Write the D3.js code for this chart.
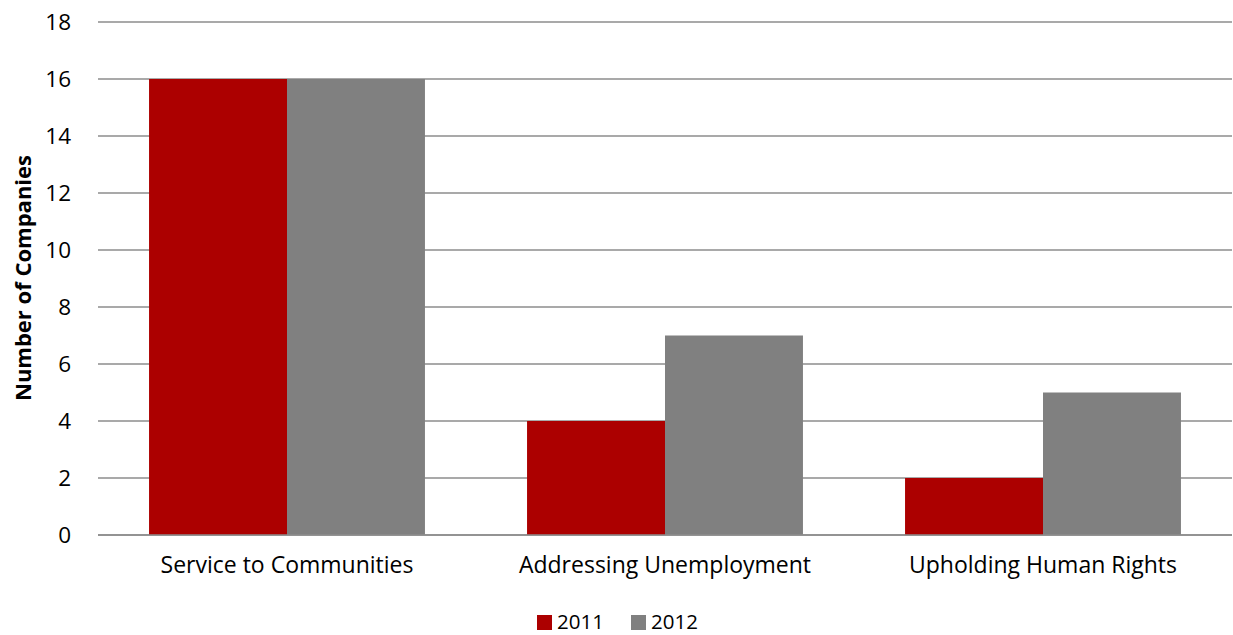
<!DOCTYPE html>
<html><head><meta charset="utf-8">
<script src="https://cdn.jsdelivr.net/npm/d3@7"></script>
<style>body{margin:0;background:#fff;} svg{display:block;}</style>
</head><body>
<svg id="c" width="1233" height="635"></svg>
<script>
const categories = ["Service to Communities", "Addressing Unemployment", "Upholding Human Rights"];
const seriesNames = ["2011", "2012"];
const values2011 = [16, 4, 2];
const values2012 = [16, 7, 5];
const yTicks = [0, 2, 4, 6, 8, 10, 12, 14, 16, 18];
const colors = ["#AC0000", "#808080"];

const svg = d3.select("#c");
const font = "'Open Sans', sans-serif";
const m = {left: 98, right: 1232, top: 22, bottom: 535};

const x0 = d3.scaleBand().domain(categories).range([m.left, m.right]).paddingInner(0).paddingOuter(0);
const x1 = d3.scaleBand().domain(seriesNames).range([0, x0.bandwidth()]).paddingInner(0).paddingOuter(0.37);
const y = d3.scaleLinear().domain([0, 18]).range([m.bottom, m.top]);

// gridlines
svg.append("g").selectAll("line").data(yTicks).join("line")
  .attr("x1", m.left).attr("x2", m.right)
  .attr("y1", d => y(d)).attr("y2", d => y(d))
  .attr("stroke", "#8c8c8c").attr("stroke-width", 1.5);

// y tick labels
const yAxis = d3.axisLeft(y).tickValues(yTicks).tickSize(0).tickPadding(0);
const ga = svg.append("g").attr("transform", `translate(71,0)`).call(yAxis);
ga.select(".domain").remove();
ga.selectAll("text").attr("font-family", font).attr("font-size", 22.5).attr("fill", "#000");

const data = [values2011, values2012];
seriesNames.forEach((s, si) => {
  svg.append("g").selectAll("rect").data(categories).join("rect")
    .attr("x", c => x0(c) + x1(s))
    .attr("width", x1.bandwidth())
    .attr("y", (c, i) => y(data[si][i]))
    .attr("height", (c, i) => y(0) - y(data[si][i]))
    .attr("fill", colors[si]);
});

// x axis line
svg.append("line").attr("x1", m.left).attr("x2", m.right).attr("y1", y(0)).attr("y2", y(0))
  .attr("stroke", "#8c8c8c").attr("stroke-width", 1.5);

// category labels
const xAxis = d3.axisBottom(x0).tickSize(0).tickPadding(0);
const gx = svg.append("g").attr("transform", `translate(0,${y(0) + 22})`).call(xAxis);
gx.select(".domain").remove();
gx.selectAll("text").attr("font-family", font).attr("font-size", 23).attr("fill", "#000");

// y title
svg.append("text").attr("transform", `translate(31,278) rotate(-90)`)
  .attr("text-anchor", "middle").attr("font-family", font).attr("font-size", 22)
  .attr("font-weight", "bold").text("Number of Companies");

// legend
const legX = [537, 631];
seriesNames.forEach((s, i) => {
  svg.append("rect").attr("x", legX[i]).attr("y", 615).attr("width", 15).attr("height", 15).attr("fill", colors[i]);
  svg.append("text").attr("x", legX[i] + 20).attr("y", 629).attr("font-family", font).attr("font-size", 20.5).text(s);
});
</script>
</body></html>
